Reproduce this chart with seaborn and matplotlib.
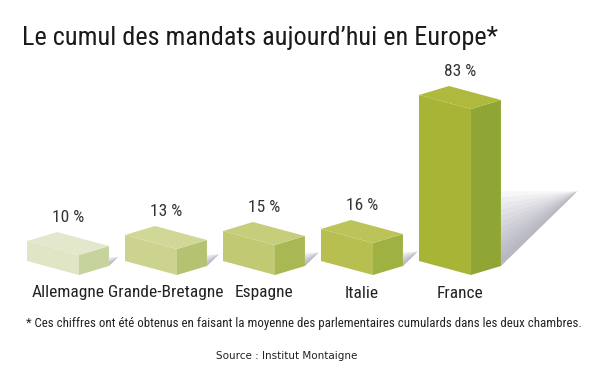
import numpy as np
import matplotlib
matplotlib.use("Agg")
import matplotlib.pyplot as plt
import matplotlib.transforms as mtransforms
from matplotlib.patches import Polygon
import seaborn as sns

# ── Data ─────────────────────────────────────────────────────
pays = ["Allemagne", "Grande-Bretagne", "Espagne", "Italie", "France"]
valeurs = [10, 13, 15, 16, 83]
etiquettes = ["10 %", "13 %", "15 %", "16 %", "83 %"]

# box face colours (front-left, right side, top)
couleurs_face = ["#dfe5c5", "#ccd38f", "#c1c972", "#b6bf4f", "#a8b436"]
couleurs_cote = ["#c6d39d", "#b4c272", "#a9b853", "#9fb141", "#8fa634"]
couleurs_dessus = ["#e3e8cc", "#d1d797", "#c6cd7b", "#bcc459", "#aeb93e"]

titre = "Le cumul des mandats aujourd\u2019hui en Europe*"
note = ("* Ces chiffres ont été obtenus en faisant la moyenne des "
        "parlementaires cumulards dans les deux chambres.")
source = "Source : Institut Montaigne"

# ── Figure ───────────────────────────────────────────────────
sns.set_style("white")
plt.rcParams["font.family"] = ["Roboto Condensed", "DejaVu Sans"]

fig = plt.figure(figsize=(5.99, 3.68), dpi=100)
ax = fig.add_axes([0, 0, 1, 1])

w = 0.53          # width of the front face (data units)
sns.barplot(x=pays, y=valeurs, hue=pays, palette=couleurs_face,
            width=w, saturation=1, legend=False, ax=ax, zorder=3)

# 1 x-unit = 98 px, 1 y-unit = 2 px
px_x = 1 / 98
px_y = 1 / 2
ax.set_xlim(-w / 2 - 27 * px_x, -w / 2 - 27 * px_x + 599 * px_x)
ax.set_ylim(-107 * px_y, (368 - 107) * px_y)
ax.axis("off")

drop = 14 * px_y   # front corner lower than the left corner
rise = 9 * px_y    # right side rises towards the back
rw = 30 * px_x     # width of the right side face

for i, bar in enumerate(ax.patches):
    x0 = bar.get_x()
    x1 = x0 + bar.get_width()
    h = bar.get_height()
    k = drop / (x1 - x0)
    shear = mtransforms.Affine2D(np.array([[1, 0, 0], [-k, 1, k * x0], [0, 0, 1]]))
    bar.set_transform(shear + ax.transData)
    bar.set_edgecolor("none")

    # cast shadow
    H = h / px_y
    xr, yb = x1 + rw, -drop + rise
    tip = (xr + 0.46 * H * px_x, yb + 0.45 * H * px_y)
    for j in range(12):
        f = 0.05 + 0.4 * j / 11
        ax.add_patch(Polygon([(xr, yb), tip, (xr, yb + f * H * px_y)],
                             closed=True, facecolor="#7e7e92", edgecolor="none",
                             alpha=0.06, zorder=1))

    # right side face
    ax.add_patch(Polygon([(x1, -drop), (xr, yb), (xr, h - drop + rise), (x1, h - drop)],
                         closed=True, facecolor=couleurs_cote[i], edgecolor="none", zorder=3))
    # top face
    ax.add_patch(Polygon([(x0, h), (x1, h - drop), (xr, h - drop + rise), (x0 + rw, h + rise)],
                         closed=True, facecolor=couleurs_dessus[i], edgecolor="none", zorder=3))

    centre = x0 + (x1 - x0 + rw) / 2
    ax.text(centre, h + 12, etiquettes[i], ha="center", va="center",
            fontsize=12.5, color="#333333")
    ax.text(centre, -16, pays[i], ha="center", va="center",
            fontsize=12.5, color="#222222")

fig.text(22 / 599, 1 - 38 / 368, titre, ha="left", va="center",
         fontsize=18.9, color="#1a1a1a")
fig.text(304 / 599, 1 - 323 / 368, note, ha="center", va="center",
         fontsize=9.3, color="#222222")
fig.text(287 / 599, 1 - 356 / 368, source, ha="center", va="center",
         fontsize=7.5, color="#222222", family="DejaVu Sans")

plt.savefig("out.png", dpi=100)
